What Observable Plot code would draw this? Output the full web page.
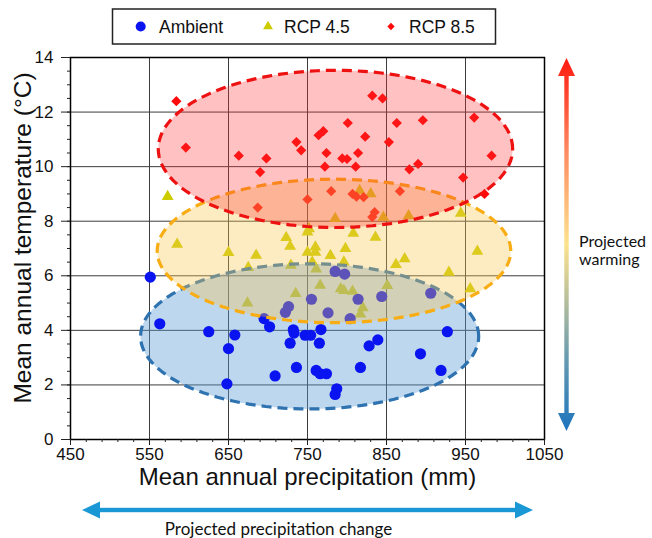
<!DOCTYPE html>
<html><head><meta charset="utf-8">
<script src="https://cdn.jsdelivr.net/npm/d3@7"></script>
<script src="https://cdn.jsdelivr.net/npm/@observablehq/plot@0.6"></script>
<style>
body{margin:0;background:#fff;}
#wrap{position:relative;width:652px;height:538px;overflow:hidden;font-family:"Liberation Sans",Arial,sans-serif;}
#wrap svg{position:absolute;left:0;top:0;}
</style></head><body><div id="wrap"></div>
<script>
// ---- data ----
const seriesNames = ["Ambient", "RCP 4.5", "RCP 8.5"];
const seriesColors = ["#0a14f0", "#cccc00", "#ff0a0a"];

const ambientPrecip = [551,563,625,658,650,648,695,702,709,722,726,732,733,728,736,747,754,755,767,765,761,766,774,776,787,785,785,797,814,804,844,906,839,828,817,893,927,919];
const ambientTemp   = [5.95,4.24,3.95,3.83,3.33,2.04,4.43,4.13,2.33,4.66,4.87,4.02,3.9,3.53,2.64,3.82,3.82,5.14,4.03,3.53,2.53,2.41,2.41,4.64,1.86,1.65,6.16,6.06,5.14,4.43,5.24,5.36,3.65,3.43,2.64,3.14,3.95,2.53];

const rcp45Precip = [573,585,650,685,675,674,723,728,729,735,750,752,750,760,760,756,761,766,779,785,792,796,798,796,807,808,816,830,820,817,836,846,851,862,873,878,929,944,956,965];
const rcp45Temp   = [8.9,7.15,6.85,6.75,6.3,5.0,7.4,7.08,6.38,5.35,7.6,7.72,6.86,7.05,6.86,6.5,6.25,5.65,6.74,8.1,5.52,5.46,7.0,6.5,5.43,7.56,9.12,9.0,4.83,4.6,7.41,8.14,5.64,6.41,6.62,8.2,6.13,8.29,5.52,6.9];

const rcp85Precip = [584,596,663,698,690,687,736,742,764,770,774,772,750,780,801,832,845,863,896,961,823,853,814,794,800,811,890,879,983,947,974,867,807,812,821,835,832];
const rcp85Temp   = [12.4,10.7,10.4,10.3,9.8,8.5,10.9,10.6,11.15,11.3,10.5,10.0,8.8,9.1,11.6,12.6,12.5,11.6,11.7,11.8,11.1,10.9,10.5,10.3,10.28,10.0,10.1,9.9,10.4,9.6,9.0,9.1,9.0,8.9,8.88,8.33,8.15];

// envelope ellipses (centre and half-axes, in data units)
const ellipseCenterPrecip = [752.7, 783.5, 785.4];
const ellipseCenterTemp   = [3.78, 6.91, 10.65];
const ellipseHalfWidth    = [214, 223.8, 224.3];
const ellipseHalfHeight   = [2.66, 2.63, 2.88];
const ellipseFill   = ["#5b9bd5", "#f9c74f", "#ff3333"];
const ellipseStroke = ["#2e72b0", "#f8ad14", "#ee1111"];

const xMajorTicks = [450,550,650,750,850,950,1050];
const yMajorTicks = [0,2,4,6,8,10,12,14];
const xMinorTicks = d3.range(450, 1051, 20);
const yMinorTicks = d3.range(0, 14.01, 0.5);
const xGrid = [550,650,750,850,950];
const yGrid = [2,4,6,8,10,12];

const xTitle = "Mean annual precipitation (mm)";
const yTitle = "Mean annual temperature (°C)";
const warmingLabel = ["Projected", "warming"];
const precipLabel = "Projected precipitation change";

// ---- build tables ----
const toRows = (xs, ys) => xs.map((x, i) => ({precip: x, temp: ys[i]}));
const ambient = toRows(ambientPrecip, ambientTemp);
const rcp45 = toRows(rcp45Precip, rcp45Temp);
const rcp85 = toRows(rcp85Precip, rcp85Temp);

function ellipseOutline(i) {
  const pts = [];
  for (let a = 0; a < 360; a += 3) {
    const t = a * Math.PI / 180;
    pts.push({precip: ellipseCenterPrecip[i] + ellipseHalfWidth[i] * Math.cos(t),
              temp: ellipseCenterTemp[i] + ellipseHalfHeight[i] * Math.sin(t)});
  }
  return pts;
}
function ellipseMark(i, opacity) {
  return Plot.line(ellipseOutline(i), {
    x: "precip", y: "temp", curve: "linear-closed",
    fill: ellipseFill[i], fillOpacity: opacity,
    stroke: ellipseStroke[i], strokeWidth: 3.2, strokeDasharray: "10,6",
    strokeLinecap: "butt"
  });
}

const W = 652, H = 538;
const chart = Plot.plot({
  width: W, height: H,
  marginTop: 57, marginBottom: 99, marginLeft: 70, marginRight: 108,
  style: {fontFamily: "'Liberation Sans', Arial, sans-serif", fontSize: "17px", color: "#111", background: "transparent"},
  x: {domain: [450, 1050]},
  y: {domain: [0, 14]},
  marks: [
    Plot.gridX(xGrid, {stroke: "#3c3c3c", strokeOpacity: 1, strokeWidth: 1}),
    Plot.gridY(yGrid, {stroke: "#3c3c3c", strokeOpacity: 1, strokeWidth: 1}),
    Plot.dot(rcp45, {x: "precip", y: "temp", symbol: "triangle", r: 4.4, fill: seriesColors[1]}),
    ellipseMark(0, 0.4),
    Plot.dot(ambient, {x: "precip", y: "temp", symbol: "circle", r: 5.6, fill: seriesColors[0]}),
    Plot.dot(rcp85, {x: "precip", y: "temp", symbol: "diamond2", r: 4.6, fill: seriesColors[2]}),
    ellipseMark(1, 0.35),
    ellipseMark(2, 0.3),
    Plot.frame({stroke: "#000", strokeWidth: 1.5}),
    Plot.axisX(xMinorTicks, {anchor: "bottom", tickSize: 3, tickFormat: () => "", label: null, stroke: "#222"}),
    Plot.axisX(xMajorTicks, {anchor: "bottom", tickSize: 6, tickPadding: 2, tickFormat: d => String(d), label: null, fontSize: 17, stroke: "#222"}),
    Plot.axisY(yMinorTicks, {anchor: "left", tickSize: 3, tickFormat: () => "", label: null, stroke: "#222"}),
    Plot.axisY(yMajorTicks, {anchor: "left", tickSize: 9, tickPadding: 8, tickFormat: d => String(d), label: null, fontSize: 17, stroke: "#222"}),
    Plot.text([xTitle], {frameAnchor: "bottom", dy: 45, text: d => d, fontSize: 24, fill: "#111", textAnchor: "middle"}),
    Plot.text([yTitle], {frameAnchor: "left", dx: -47, dy: -10.5, rotate: -90, text: d => d, fontSize: 24.5, fill: "#111", textAnchor: "middle"})
  ]
});
const wrap = document.getElementById("wrap");
wrap.appendChild(chart);

// ---- overlay: legend and annotation arrows ----
const ov = d3.select(wrap).append("svg").attr("width", W).attr("height", H)
  .style("pointer-events", "none");

// legend
const lg = ov.append("g");
lg.append("rect").attr("x", 112.5).attr("y", 9).attr("width", 383).attr("height", 35)
  .attr("fill", "#fff").attr("stroke", "#222").attr("stroke-width", 1.5);
const legSymX = [140.7, 268, 391];
const legTxtX = [159, 284, 409];
const legSym = [d3.symbolCircle, d3.symbolTriangle, d3.symbolDiamond2];
const legSize = [80, 42, 34];
seriesNames.forEach((name, i) => {
  lg.append("path").attr("d", d3.symbol(legSym[i], legSize[i])())
    .attr("transform", `translate(${legSymX[i]},26.5)`).attr("fill", seriesColors[i]);
  lg.append("text").attr("x", legTxtX[i]).attr("y", 26.5).attr("dy", "0.35em")
    .attr("font-family", "'Liberation Sans', Arial, sans-serif").attr("font-size", 17.5)
    .attr("fill", "#111").text(name);
});

// vertical gradient arrow
const defs = ov.append("defs");
const grad = defs.append("linearGradient").attr("id", "warm").attr("gradientUnits", "userSpaceOnUse")
  .attr("x1", 0).attr("y1", 58).attr("x2", 0).attr("y2", 430);
[[0, "#ff1a10"], [0.25, "#ff8a60"], [0.5, "#fde28c"], [0.65, "#b7bf9a"], [0.8, "#6a9cb0"], [1, "#1c74bd"]]
  .forEach(([o, c]) => grad.append("stop").attr("offset", o).attr("stop-color", c));
const ax = 566.5;
ov.append("rect").attr("x", ax - 2.2).attr("y", 72).attr("width", 4.4).attr("height", 344).attr("fill", "url(#warm)");
ov.append("path").attr("d", `M${ax},58 L${ax - 8.5},76 L${ax + 8.5},76 Z`).attr("fill", "url(#warm)");
ov.append("path").attr("d", `M${ax},431 L${ax - 8.5},413 L${ax + 8.5},413 Z`).attr("fill", "url(#warm)");
warmingLabel.forEach((t, i) => {
  ov.append("text").attr("x", 579).attr("y", 247 + i * 18).attr("font-family", "Lato, 'Open Sans', sans-serif")
    .attr("font-size", 16).attr("fill", "#111").text(t);
});

// horizontal blue arrow
const ay = 510, blue = "#1a98d5";
ov.append("rect").attr("x", 98).attr("y", ay - 2.2).attr("width", 418).attr("height", 4.4).attr("fill", blue);
ov.append("path").attr("d", `M82,${ay} L100,${ay - 8.5} L100,${ay + 8.5} Z`).attr("fill", blue);
ov.append("path").attr("d", `M533,${ay} L515,${ay - 8.5} L515,${ay + 8.5} Z`).attr("fill", blue);
ov.append("text").attr("x", 278.5).attr("y", 535).attr("text-anchor", "middle")
  .attr("font-family", "Lato, 'Open Sans', sans-serif").attr("font-size", 17).attr("fill", "#111").text(precipLabel);
</script></body></html>
